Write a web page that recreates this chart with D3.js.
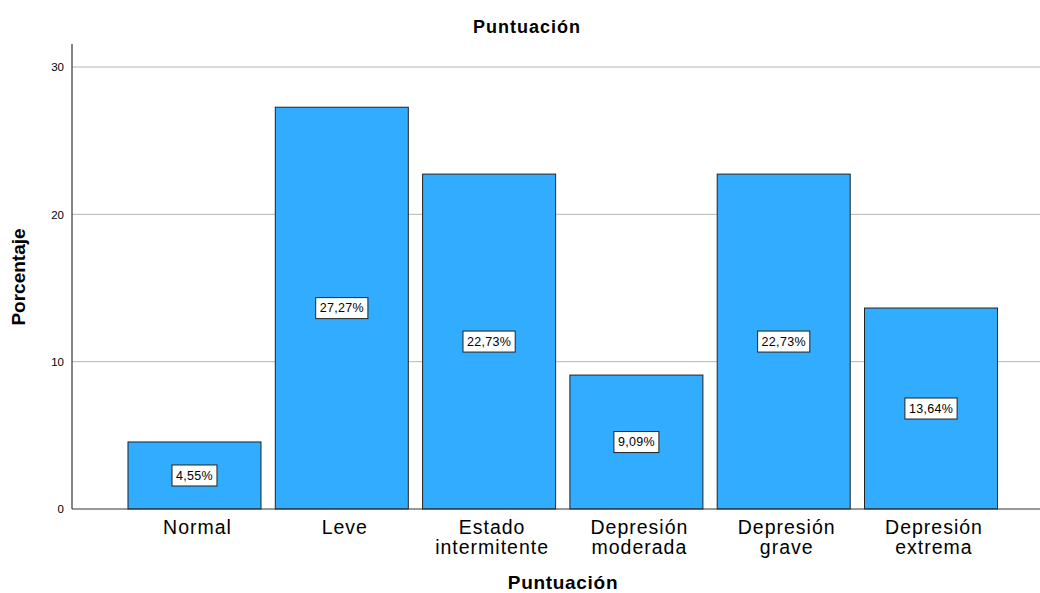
<!DOCTYPE html>
<html>
<head>
<meta charset="utf-8">
<script src="https://cdn.jsdelivr.net/npm/d3@7"></script>
<style>
  html, body { margin: 0; padding: 0; background: #fff; }
  svg { display: block; font-family: "Liberation Sans", Arial, sans-serif; }
</style>
</head>
<body>
<svg id="chart" width="1040" height="593"></svg>
<script>
// Categories (two-line labels split on "\n")
const categories = ["Normal", "Leve", "Estado\nintermitente", "Depresión\nmoderada", "Depresión\ngrave", "Depresión\nextrema"];
const percentages = [4.55, 27.27, 22.73, 9.09, 22.73, 13.64];
const yTicks = [0, 10, 20, 30];

const svg = d3.select("#chart");
const plotLeft = 72, plotRight = 1040, plotTop = 44, plotBottom = 509;

const y = d3.scaleLinear().domain([0, 30]).range([plotBottom, 67]);
const x = d3.scaleBand()
  .domain(categories)
  .range([113.7, 1011.8])
  .paddingInner(0.097)
  .paddingOuter(0.097);

// Gridlines
svg.append("g")
  .selectAll("line")
  .data(yTicks.filter(d => d > 0))
  .join("line")
  .attr("x1", plotLeft).attr("x2", plotRight)
  .attr("y1", d => y(d)).attr("y2", d => y(d))
  .attr("stroke", "#b5b5b5").attr("stroke-width", 1);

// Y axis labels
const yAxis = d3.axisLeft(y).tickValues(yTicks).tickSize(0).tickPadding(8);
const gy = svg.append("g").attr("transform", `translate(${plotLeft},0)`).call(yAxis);
gy.select(".domain").remove();
gy.selectAll("text").attr("font-size", 11.5).attr("fill", "#000")
  .attr("font-family", "Liberation Sans, Arial, sans-serif");

// Bars
svg.append("g")
  .selectAll("rect")
  .data(percentages)
  .join("rect")
  .attr("x", (d, i) => x(categories[i]))
  .attr("width", x.bandwidth())
  .attr("y", d => y(d))
  .attr("height", d => y(0) - y(d))
  .attr("fill", "#31acff")
  .attr("stroke", "#222")
  .attr("stroke-width", 1);

// Value labels in boxes, centred at half bar height
const lbl = svg.append("g").selectAll("g")
  .data(percentages)
  .join("g")
  .attr("transform", (d, i) => `translate(${x(categories[i]) + x.bandwidth() / 2},${(y(d) + y(0)) / 2})`);
lbl.each(function(d) {
  const g = d3.select(this);
  const txt = d.toFixed(2).replace(".", ",") + "%";
  const t = g.append("text")
    .attr("text-anchor", "middle").attr("dy", "0.35em")
    .attr("font-size", 12.5).attr("letter-spacing", 0.3).attr("fill", "#000")
    .text(txt);
  const w = t.node().getComputedTextLength() + 8;
  g.insert("rect", "text")
    .attr("x", -w / 2).attr("y", -10.5)
    .attr("width", w).attr("height", 21)
    .attr("fill", "#fff").attr("stroke", "#222").attr("stroke-width", 1);
});

// Axis lines
svg.append("line").attr("x1", plotLeft).attr("x2", plotLeft)
  .attr("y1", plotTop).attr("y2", plotBottom).attr("stroke", "#333").attr("stroke-width", 1.2);
svg.append("line").attr("x1", plotLeft).attr("x2", plotRight)
  .attr("y1", plotBottom).attr("y2", plotBottom).attr("stroke", "#333").attr("stroke-width", 1.2);

// Category labels
const catG = svg.append("g").selectAll("text")
  .data(categories)
  .join("text")
  .attr("text-anchor", "middle")
  .attr("font-size", 19.5)
  .attr("letter-spacing", 1)
  .attr("fill", "#000")
  .attr("x", d => x(d) + x.bandwidth() / 2 + 3)
  .attr("y", 534);
catG.each(function(d) {
  const parts = d.split("\n");
  d3.select(this).selectAll("tspan").data(parts).join("tspan")
    .attr("x", d3.select(this).attr("x"))
    .attr("dy", (p, i) => i === 0 ? 0 : 20)
    .text(p => p);
});

// Titles
svg.append("text").attr("x", 527).attr("y", 33).attr("text-anchor", "middle")
  .attr("font-size", 18).attr("letter-spacing", 1).attr("font-weight", "bold").text("Puntuación");
svg.append("text").attr("x", 563).attr("y", 589).attr("text-anchor", "middle")
  .attr("font-size", 19).attr("letter-spacing", 0.7).attr("font-weight", "bold").text("Puntuación");
svg.append("text").attr("transform", "translate(25,277) rotate(-90)")
  .attr("text-anchor", "middle").attr("font-size", 19).attr("font-weight", "bold")
  .text("Porcentaje");
</script>
</body>
</html>
